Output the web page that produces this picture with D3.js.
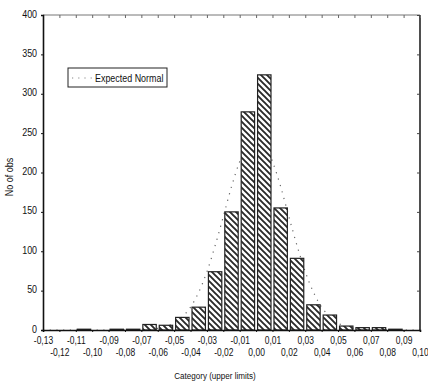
<!DOCTYPE html>
<html>
<head>
<meta charset="utf-8">
<script src="https://cdn.jsdelivr.net/npm/d3@7"></script>
<style>
  html, body { margin: 0; padding: 0; background: #fff; }
  svg { display: block; }
  text { font-family: "Liberation Sans Narrow", "Arial Narrow", "Liberation Sans", sans-serif; fill: #111; }
</style>
</head>
<body>
<script>
// Bin upper limits and observed counts
const upperLimits = [-0.12,-0.11,-0.10,-0.09,-0.08,-0.07,-0.06,-0.05,-0.04,-0.03,-0.02,-0.01,0.00,0.01,0.02,0.03,0.04,0.05,0.06,0.07,0.08,0.09,0.10];
const counts      = [0,0,1,0,1,1,7,6,16,29,74,150,277,324,155,91,32,19,5,3,3,1,0];
// Expected normal curve
const curveX = [-0.13,-0.09,-0.08,-0.075,-0.07,-0.065,-0.06,-0.055,-0.05,-0.045,-0.04,-0.035,-0.03,-0.025,-0.02,-0.015,-0.01,-0.005,0,0.005,0.01,0.015,0.02,0.025,0.03,0.035,0.04,0.045,0.05,0.055,0.06,0.065,0.07,0.075,0.08,0.09,0.10];
const curveY = [0,0,0.1,0.2,0.4,0.9,2,4,9,17,29,48,74,107,144,182,214,237,245,237,214,182,144,107,74,48,29,17,9,4,2,0.9,0.4,0.2,0.1,0,0];
// Tick labels
const xTicks = [-0.13,-0.12,-0.11,-0.10,-0.09,-0.08,-0.07,-0.06,-0.05,-0.04,-0.03,-0.02,-0.01,0.00,0.01,0.02,0.03,0.04,0.05,0.06,0.07,0.08,0.09,0.10];
const yTicks = [0,50,100,150,200,250,300,350,400];
const legendLabel = "Expected Normal";
const xTitle = "Category (upper limits)";
const yTitle = "No of obs";

const W = 428, H = 383;
const L = 43, R = 420, T = 15, B = 330;

const svg = d3.select("body").append("svg").attr("width", W).attr("height", H);

const defs = svg.append("defs");
const pat = defs.append("pattern").attr("id","hatch").attr("patternUnits","userSpaceOnUse")
  .attr("width",6).attr("height",6);
pat.append("path").attr("d","M-1,-1 L7,7 M-4,2 L4,10 M2,-4 L10,4")
  .attr("stroke","#2a2a2a").attr("stroke-width",1.9);

const x = d3.scaleLinear().domain([-0.13, 0.10]).range([L, R]);
const y = d3.scaleLinear().domain([0, 400]).range([B, T]);

const fmt = v => {
  let s = Math.abs(v) < 1e-9 ? "0.00" : d3.format(".2f")(v).replace("−","-");
  return s.replace(".", ",");
};

// Expected normal curve (behind bars)
const line = d3.line().x((d,i)=>x(curveX[i])).y((d,i)=>y(curveY[i])).curve(d3.curveMonotoneX);
svg.append("path").datum(curveY).attr("d", line)
  .attr("fill","none").attr("stroke","#666").attr("stroke-width",1.2)
  .attr("stroke-dasharray","1.2,5.5");

// Bars
const bars = svg.append("g");
upperLimits.forEach((u,i) => {
  if (counts[i] <= 0) return;
  const x0 = x(u - 0.01) + 1.5, x1 = x(u) - 1.5;
  const y0 = y(counts[i]);
  bars.append("rect").attr("x",x0).attr("y",y0).attr("width",x1-x0).attr("height",B-y0)
    .attr("fill","#fff");
  bars.append("rect").attr("x",x0).attr("y",y0).attr("width",x1-x0).attr("height",B-y0)
    .attr("fill","url(#hatch)").attr("stroke","#222").attr("stroke-width",1.2);
});

// Frame: top and right
svg.append("line").attr("x1",L).attr("x2",R).attr("y1",T).attr("y2",T)
  .attr("stroke","#777").attr("stroke-width",1);
svg.append("line").attr("x1",R).attr("x2",R).attr("y1",T).attr("y2",B)
  .attr("stroke","#222").attr("stroke-width",1.6);
const topTicks = svg.append("g").attr("transform",`translate(0,${T})`)
  .call(d3.axisTop(x).tickValues(xTicks).tickSize(-3).tickFormat(""));
topTicks.select(".domain").remove();
topTicks.selectAll("line").attr("stroke","#666");
const rightTicks = svg.append("g").attr("transform",`translate(${R},0)`)
  .call(d3.axisRight(y).tickValues(yTicks).tickSize(-3).tickFormat(""));
rightTicks.select(".domain").remove();
rightTicks.selectAll("line").attr("stroke","#444");

// Left axis
const ya = svg.append("g").attr("transform",`translate(${L},0)`)
  .call(d3.axisLeft(y).tickValues(yTicks).tickSize(2).tickPadding(5).tickFormat(d3.format("d")));
ya.select(".domain").attr("stroke","#111").attr("stroke-width",1.6);
ya.selectAll("line").attr("stroke","#111");
ya.selectAll("text").attr("font-size",10.5).attr("transform","scale(0.85,1)").attr("dy","0.2em");

// Bottom axis
const xa = svg.append("g").attr("transform",`translate(0,${B})`)
  .call(d3.axisBottom(x).tickValues(xTicks).tickSize(2).tickPadding(6).tickFormat(fmt));
xa.select(".domain").attr("stroke","#111").attr("stroke-width",1.6);
xa.selectAll("line").attr("stroke","#111");
xa.selectAll("text").attr("font-size",10).attr("transform","scale(0.85,1)")
  .attr("dy",(d,i)=> i%2===0 ? "0.65em" : "1.85em");

// Axis titles
svg.append("text").attr("x",215).attr("y",379).attr("text-anchor","middle")
  .attr("font-size",9.5).attr("transform","translate(215,0) scale(0.85,1) translate(-215,0)").text(xTitle);
svg.append("text").attr("transform","translate(13,177) rotate(-90) scale(0.9,1)").attr("text-anchor","middle")
  .attr("font-size",10).text(yTitle);

// Legend
svg.append("rect").attr("x",68).attr("y",68).attr("width",99).attr("height",19)
  .attr("fill","#fff").attr("stroke","#222").attr("stroke-width",1);
svg.append("line").attr("x1",72).attr("x2",92).attr("y1",78).attr("y2",78)
  .attr("stroke","#888").attr("stroke-width",1.2).attr("stroke-dasharray","1.2,5");
svg.append("text").attr("transform","translate(95,81.5) scale(0.85,1)").attr("font-size",10.5)
  .text(legendLabel);
</script>
</body>
</html>
